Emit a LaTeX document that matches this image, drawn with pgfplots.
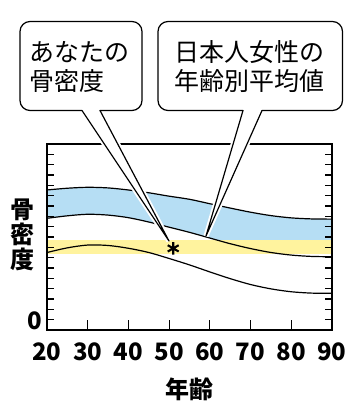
\documentclass[border=0pt]{standalone}
\usepackage{fontspec}
\setmainfont{Noto Sans CJK JP}
\usepackage{pgfplots}
\usepackage{pgfplotstable}
\pgfplotsset{compat=1.18}
\definecolor{bandblue}{RGB}{182,222,244}
\definecolor{bandyellow}{RGB}{255,243,158}

\pgfplotstableread{
age up mid low
20 13.55 10.81 7.50
25 13.72 11.05 7.95
30 13.81 11.20 8.22
35 13.75 11.12 8.18
40 13.55 10.87 7.91
45 13.28 10.45 7.50
50 12.95 9.95 6.92
55 12.65 9.45 6.30
60 12.22 8.90 5.62
65 11.80 8.35 4.97
70 11.40 7.88 4.40
75 11.07 7.50 3.98
80 10.85 7.25 3.70
85 10.75 7.12 3.57
90 10.73 7.09 3.55
}\curves

\pgfplotstableread{
x lo hi
20 7.33 8.68
90 7.33 8.68
}\yband

\begin{document}
\begin{tikzpicture}[x=1pt,y=1pt]
\useasboundingbox (0,0) rectangle (360,420);
\begin{axis}[
  at={(47pt,90pt)}, anchor=south west,
  scale only axis, width=285pt, height=186pt,
  xmin=20, xmax=90, ymin=0, ymax=18,
  axis on top,
  axis line style={line width=1.2pt},
  tick align=inside,
  xtick={20,30,...,90}, xtick pos=left,
  x tick style={draw=none},
  ytick={0,1,...,17}, ytick pos=both,
  yticklabels={0,,,,,,,,,,,,,,,,,},
  major tick length=7pt,
  every tick/.style={black, line width=1.2pt},
  /pgf/number format/assume math mode=true,
  xticklabel style={font=\fontsize{24}{24}\selectfont\bfseries, anchor=base, yshift=-30.5pt},
  yticklabel style={font=\fontsize{24}{24}\selectfont\bfseries, anchor=base east, xshift=-1pt},
  xlabel={年齢},
  xlabel style={font=\fontsize{24}{24}\selectfont\bfseries, at={(axis description cs:0.5,-0.32)}, anchor=center},
  ylabel={骨\\密\\度},
  ylabel style={rotate=-90, align=center, font=\fontsize{24}{25}\selectfont\bfseries, at={(axis description cs:-0.0877,0.51)}, anchor=center},
]
\addplot[draw=none, fill=bandblue, smooth] table[x=age, y=up] {\curves} \closedcycle;
\addplot[draw=none, fill=white, smooth] table[x=age, y=mid] {\curves} \closedcycle;
\addplot[draw=none, fill=bandyellow] table[x=x, y=hi] {\yband} \closedcycle;
\addplot[draw=none, fill=white] table[x=x, y=lo] {\yband} \closedcycle;
\addplot[black, line width=1.2pt, smooth] table[x=age, y=up] {\curves};
\addplot[black, line width=1.2pt, smooth] table[x=age, y=mid] {\curves};
\addplot[black, line width=1.2pt, smooth] table[x=age, y=low] {\curves};
\addplot[only marks, mark=asterisk, mark size=6.3pt, mark options={line width=2.1pt, black}] coordinates {(51,7.9)};
\end{axis}
\begin{axis}[
  at={(47pt,90pt)}, anchor=south west,
  scale only axis, width=285pt, height=186pt,
  xmin=20, xmax=90, ymin=0, ymax=18,
  axis line style={draw=none},
  tick align=inside,
  xtick={30,40,...,80}, xtick pos=left, xticklabels={},
  ytick=\empty,
  major tick length=10pt,
  every tick/.style={black, line width=1.2pt},
]
\addplot[draw=none] coordinates {(20,0) (90,18)};
\end{axis}
% callouts
\draw[white, line width=5pt, line join=bevel] (82,309.5) -- (169,179) -- (100,309.5);
\draw[white, line width=5pt, line join=bevel] (243,309.5) -- (206,184) -- (262,309.5);
\draw[black, fill=white, line width=1.2pt, line join=round]
  (100,309.5) -- (132,309.5) arc[start angle=270, end angle=360, radius=10]
  -- (142,388.5) arc[start angle=0, end angle=90, radius=10]
  -- (30,398.5) arc[start angle=90, end angle=180, radius=10]
  -- (20,319.5) arc[start angle=180, end angle=270, radius=10]
  -- (82,309.5) -- (169,179) -- cycle;
\draw[black, fill=white, line width=1.2pt, line join=round]
  (262,309.5) -- (332.5,309.5) arc[start angle=270, end angle=360, radius=10]
  -- (342.5,388.5) arc[start angle=0, end angle=90, radius=10]
  -- (168,398.5) arc[start angle=90, end angle=180, radius=10]
  -- (158,319.5) arc[start angle=180, end angle=270, radius=10]
  -- (243,309.5) -- (206,184) -- cycle;
\node[anchor=west, inner sep=0, font=\fontsize{25}{30}\selectfont] at (29,368.3) {あなたの};
\node[anchor=west, inner sep=0, font=\fontsize{25}{30}\selectfont] at (29,339) {骨密度};
\node[anchor=west, inner sep=0, font=\fontsize{25}{30}\selectfont] at (174,368.3) {日本人女性の};
\node[anchor=west, inner sep=0, font=\fontsize{25}{30}\selectfont] at (174,339) {年齢別平均値};
\end{tikzpicture}
\end{document}
